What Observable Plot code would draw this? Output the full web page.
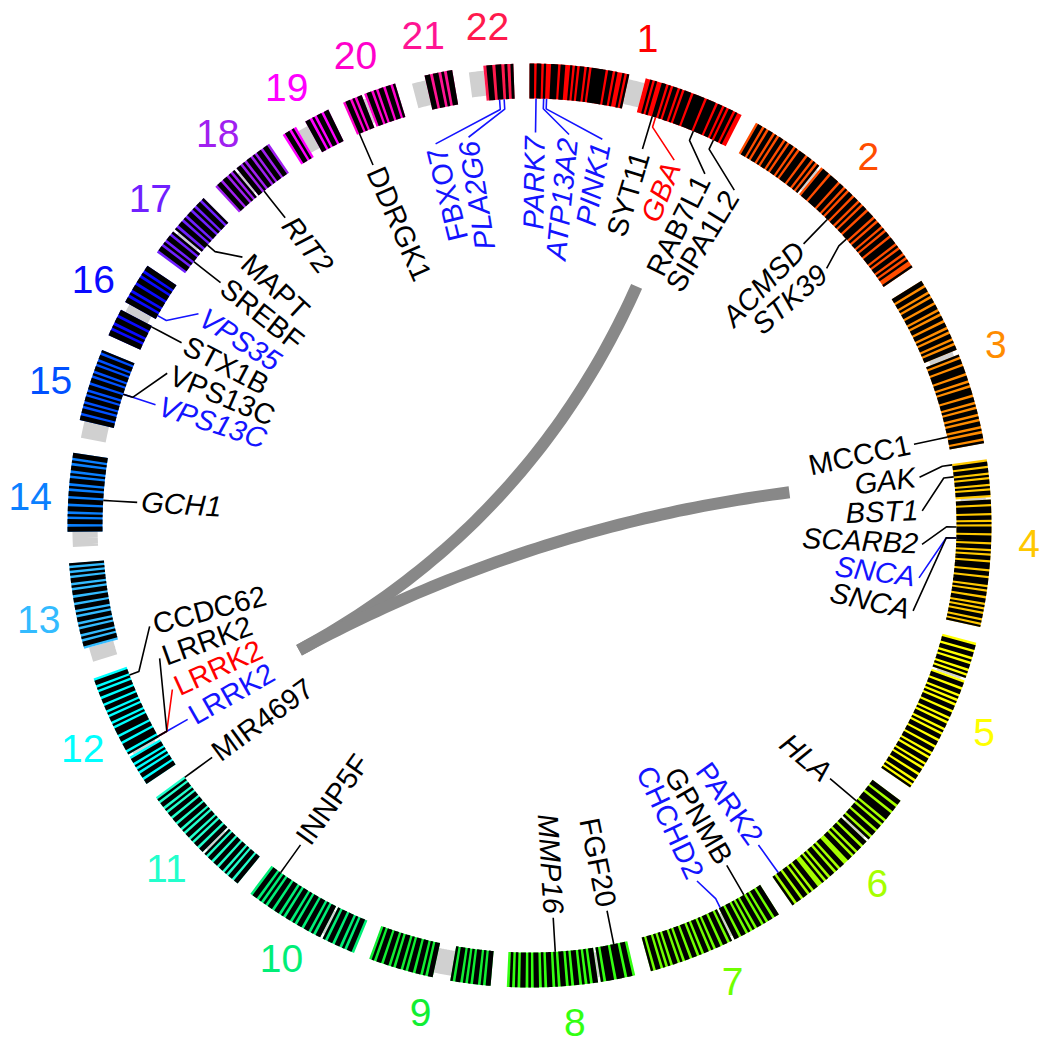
<!DOCTYPE html>
<html>
<head>
<meta charset="utf-8">
<script src="https://cdn.jsdelivr.net/npm/d3@7"></script>
<script src="https://cdn.jsdelivr.net/npm/@observablehq/plot@0.6"></script>
<style>
  html, body { margin: 0; padding: 0; background: #ffffff; }
  svg { display: block; }
</style>
</head>
<body>
<script>
// ---------------- DATA ----------------
const chromosomes = ["1","2","3","4","5","6","7","8","9","10","11","12","13","14","15","16","17","18","19","20","21","22"];
const chrLengths = [249.3, 243.2, 198.0, 191.2, 180.9, 171.1, 159.1, 146.4, 141.2, 135.5, 135.0, 133.9, 115.2, 107.3, 102.5, 90.4, 81.2, 78.1, 59.1, 63.0, 48.1, 51.3];
const chrColors = ["#ff0000","#ff4d00","#ff8c00","#ffc800","#ffff00","#a6ff00","#70ff00","#33ff11","#11ee33","#00ee77","#22ffcc","#00ffff","#33bbff","#0a80ff","#0050ff","#0a0aff","#7020ff","#a020f0","#ff00ff","#ff00cc","#ff1493","#ff1a4d"];
// banding read from the ring (1 = black band, 0 = coloured band, g = grey heterochromatin / centromere)
const chrBands = [
  "110110100111011001010110101111110110100101ggggggg0010100110101101011101111101111011010110100",
  "0110101101011010110101110110101g0111011110110101101101011011101011010110111010110101001",
  "1101101011011010110110101101011gg1011011101101011101101011010110101101",
  "01101101011010110g110111011010111011101101011011101101110101101101010110101",
  "011011010110101g0110110101011011010110101101101101011010110110101",
  "1101101110101101101g1101101011001101011010100110101101101",
  "11011010110101011011g1011011010110101101101011010101101",
  "0110111011101g1101010110101101011010110101101010",
  "1101011010101101ggggggg11010110110101101011011010",
  "0110101101101g1101011011010110101101101010110",
  "110110101101101101g11011010110101101101101011010",
  "1101101010110g1011101101110101101011011011010110",
  "gggggg01101011010110101101101101011010101",
  "gggggg1101101011011011010110101101011",
  "ggggggg110110101101011011010110101101",
  "1101011011ggg110101101101011",
  "0110101101g1011010110101101",
  "0110110101g1101011010110110",
  "011010gggg1101011011",
  "01101011g0110101101101",
  "ggggg1101101011",
  "ggggg0110110101"
];

const geneNames  = ["PARK7","ATP13A2","PINK1","SYT11","GBA","RAB7L1","SIPA1L2","ACMSD","STK39","MCCC1","GAK","BST1","SCARB2","SNCA","SNCA","HLA","PARK2","GPNMB","CHCHD2","FGF20","MMP16","INNP5F","MIR4697","LRRK2","LRRK2","LRRK2","CCDC62","GCH1","VPS13C","VPS13C","STX1B","VPS35","SREBF","MAPT","RIT2","DDRGK1","FBXO7","PLA2G6"];
const geneChr    = ["1","1","1","1","1","1","1","2","2","3","4","4","4","4","4","6","6","7","7","8","8","10","11","12","12","12","12","14","15","15","16","16","17","17","18","20","22","22"];
const genePos    = [8.0, 17.3, 20.9, 152.3, 156.5, 205.7, 232.6, 135.6, 169.1, 182.7, 0.9, 15.7, 77.1, 90.6, 90.6, 32.5, 162.5, 23.3, 56.2, 16.9, 89.1, 121.5, 133.8, 40.6, 40.6, 40.6, 123.3, 55.3, 62.2, 62.2, 31.0, 46.7, 17.7, 44.0, 40.3, 3.2, 32.9, 38.5];
const geneSource = ["familial","familial","familial","gwas","risk","gwas","gwas","gwas","gwas","gwas","gwas","gwas","gwas","familial","gwas","gwas","familial","gwas","familial","gwas","gwas","gwas","gwas","familial","risk","gwas","gwas","gwas","familial","gwas","gwas","familial","gwas","gwas","gwas","gwas","familial","familial"];

const linkFromChr = ["1","4"];
const linkFromPos = [220, 9];
const linkToChr   = ["12","12"];
const linkToPos   = [51, 51];

// ---------------- STYLE ----------------
const sourceColors = {gwas: "#000000", familial: "#1414ff", risk: "#ff0000"};
const italicGeneIdx = new Set([0,1,2,4,7,8,10,11,12,13,14,15,20,27,28,31,34,37]);
const W = 1049, H = 1050, CX = 529, CY = 525;
const R_OUT = 462, R_IN = 427, R_MID = (R_OUT + R_IN) / 2, THICK = R_OUT - R_IN;
const GAP_DEG = 2;
const LABEL_SEP = 4.9;
const R_TEXT = 389, R_CHR_LABEL = 500, R_LINK = 262;
const GENE_FONT = 29, CHR_FONT = 39;
const FONT = "'Liberation Sans', Arial, Helvetica, sans-serif";

// ---------------- LAYOUT ----------------
const total = d3.sum(chrLengths);
const degPerMb = (360 - GAP_DEG * chromosomes.length) / total;
const chrStart = [];
{ let a = 0; chrLengths.forEach((L, i) => { chrStart[i] = a; a += L * degPerMb + GAP_DEG; }); }
const chrIndex = c => chromosomes.indexOf(c);
const angleOf = (c, pos) => chrStart[chrIndex(c)] + pos * degPerMb;
const rad = d => d * Math.PI / 180;
const toXY = (r, deg) => ({x: r * Math.sin(rad(deg)), y: r * Math.cos(rad(deg))});

function arcPoints(r, a0, a1, props) {
  const n = Math.max(1, Math.ceil((a1 - a0) / 0.4));
  const pts = [];
  for (let k = 0; k <= n; k++) {
    const a = a0 + (a1 - a0) * k / n;
    pts.push({...toXY(r, a), ...props});
  }
  return pts;
}

// ring runs
const bgPts = [], blackPts = [], greyPts = [];
let runId = 0;
chromosomes.forEach((c, i) => {
  const s = chrBands[i];
  const bin = chrLengths[i] / s.length;
  let k = 0;
  while (k < s.length) {
    const isG = s[k] === "g";
    let j = k;
    while (j < s.length && (s[j] === "g") === isG) j++;
    const a0 = angleOf(c, k * bin), a1 = angleOf(c, j * bin);
    if (isG) greyPts.push(...arcPoints(R_MID, a0, a1, {id: runId++}));
    else bgPts.push(...arcPoints(R_MID, a0, a1, {id: runId++, color: chrColors[i]}));
    k = j;
  }
  k = 0;
  while (k < s.length) {
    if (s[k] !== "1") { k++; continue; }
    let j = k;
    while (j < s.length && s[j] === "1") j++;
    blackPts.push(...arcPoints(R_MID, angleOf(c, k * bin), angleOf(c, j * bin), {id: runId++}));
    k = j;
  }
});

// genes + label layout (greedy clockwise spreading)
const genes = geneNames.map((name, i) => ({
  name, idx: i, source: geneSource[i], color: sourceColors[geneSource[i]],
  theta: angleOf(geneChr[i], genePos[i])
}));
const order = genes.slice().sort((a, b) => a.theta - b.theta || a.idx - b.idx);
order.forEach((g, i) => { g.lt = i === 0 ? g.theta : Math.max(g.theta, order[i - 1].lt + LABEL_SEP); });
{
  let next = order[0].lt + 360 - 2 * LABEL_SEP;
  for (let i = order.length - 1; i >= 0; i--) {
    if (order[i].lt > next) order[i].lt = next;
    next = order[i].lt - LABEL_SEP;
  }
}
const norm = a => ((a % 360) + 360) % 360;
genes.forEach(g => {
  const a = norm(g.lt);
  g.outward = a < 195 || a > 342;
  g.rotate = g.outward ? a - 90 : a + 90;
  const p = toXY(R_TEXT, g.lt);
  g.x = p.x; g.y = p.y;
  g.italic = italicGeneIdx.has(g.idx);
});
const connPts = [];
genes.forEach(g => {
  connPts.push({...toXY(R_IN, g.theta), id: g.idx, color: g.color});
  connPts.push({...toXY(R_IN - 10, g.theta), id: g.idx, color: g.color});
  connPts.push({...toXY(R_TEXT + 4, g.lt), id: g.idx, color: g.color});
});

// chromosome labels
const chrLabels = chromosomes.map((c, i) => ({
  text: c, color: chrColors[i],
  ...toXY(R_CHR_LABEL, chrStart[i] + chrLengths[i] * degPerMb / 2)
}));

// links (quadratic bezier through centre)
const linkPts = [];
linkFromChr.forEach((c, i) => {
  const p0 = toXY(R_LINK, angleOf(c, linkFromPos[i]));
  const p2 = toXY(R_LINK, angleOf(linkToChr[i], linkToPos[i]));
  const n = 60;
  for (let k = 0; k <= n; k++) {
    const t = k / n, u = 1 - t;
    linkPts.push({x: u * u * p0.x + t * t * p2.x, y: u * u * p0.y + t * t * p2.y, id: i});
  }
});

const geneText = (data, anchor, style) => Plot.text(data, {
  x: "x", y: "y", text: "name", rotate: "rotate", fill: "color",
  textAnchor: anchor, lineAnchor: "middle", fontSize: GENE_FONT, fontFamily: FONT, fontStyle: style
});

const chart = Plot.plot({
  width: W, height: H, margin: 0,
  x: {domain: [-CX, W - CX], axis: null},
  y: {domain: [-(H - CY), CY], axis: null},
  color: {type: "identity"},
  marks: [
    Plot.line(linkPts, {x: "x", y: "y", z: "id", stroke: "#888888", strokeWidth: 12, strokeLinecap: "butt"}),
    Plot.line(greyPts, {x: "x", y: "y", z: "id", stroke: "#d0d0d0", strokeWidth: THICK * 0.72, strokeLinecap: "butt", strokeLinejoin: "miter"}),
    Plot.line(bgPts, {x: "x", y: "y", z: "id", stroke: "color", strokeWidth: THICK, strokeLinecap: "butt", strokeLinejoin: "miter"}),
    Plot.line(blackPts, {x: "x", y: "y", z: "id", stroke: "#000000", strokeWidth: THICK, strokeLinecap: "butt", strokeLinejoin: "miter"}),
    Plot.line(connPts, {x: "x", y: "y", z: "id", stroke: "color", strokeWidth: 1.6, strokeLinecap: "butt", strokeLinejoin: "miter"}),
    geneText(genes.filter(g => g.outward && !g.italic), "end", "normal"),
    geneText(genes.filter(g => g.outward && g.italic), "end", "italic"),
    geneText(genes.filter(g => !g.outward && !g.italic), "start", "normal"),
    geneText(genes.filter(g => !g.outward && g.italic), "start", "italic"),
    Plot.text(chrLabels, {x: "x", y: "y", text: "text", fill: "color", textAnchor: "middle", lineAnchor: "middle", fontSize: CHR_FONT, fontFamily: FONT})
  ]
});
document.body.appendChild(chart);
</script>
</body>
</html>
